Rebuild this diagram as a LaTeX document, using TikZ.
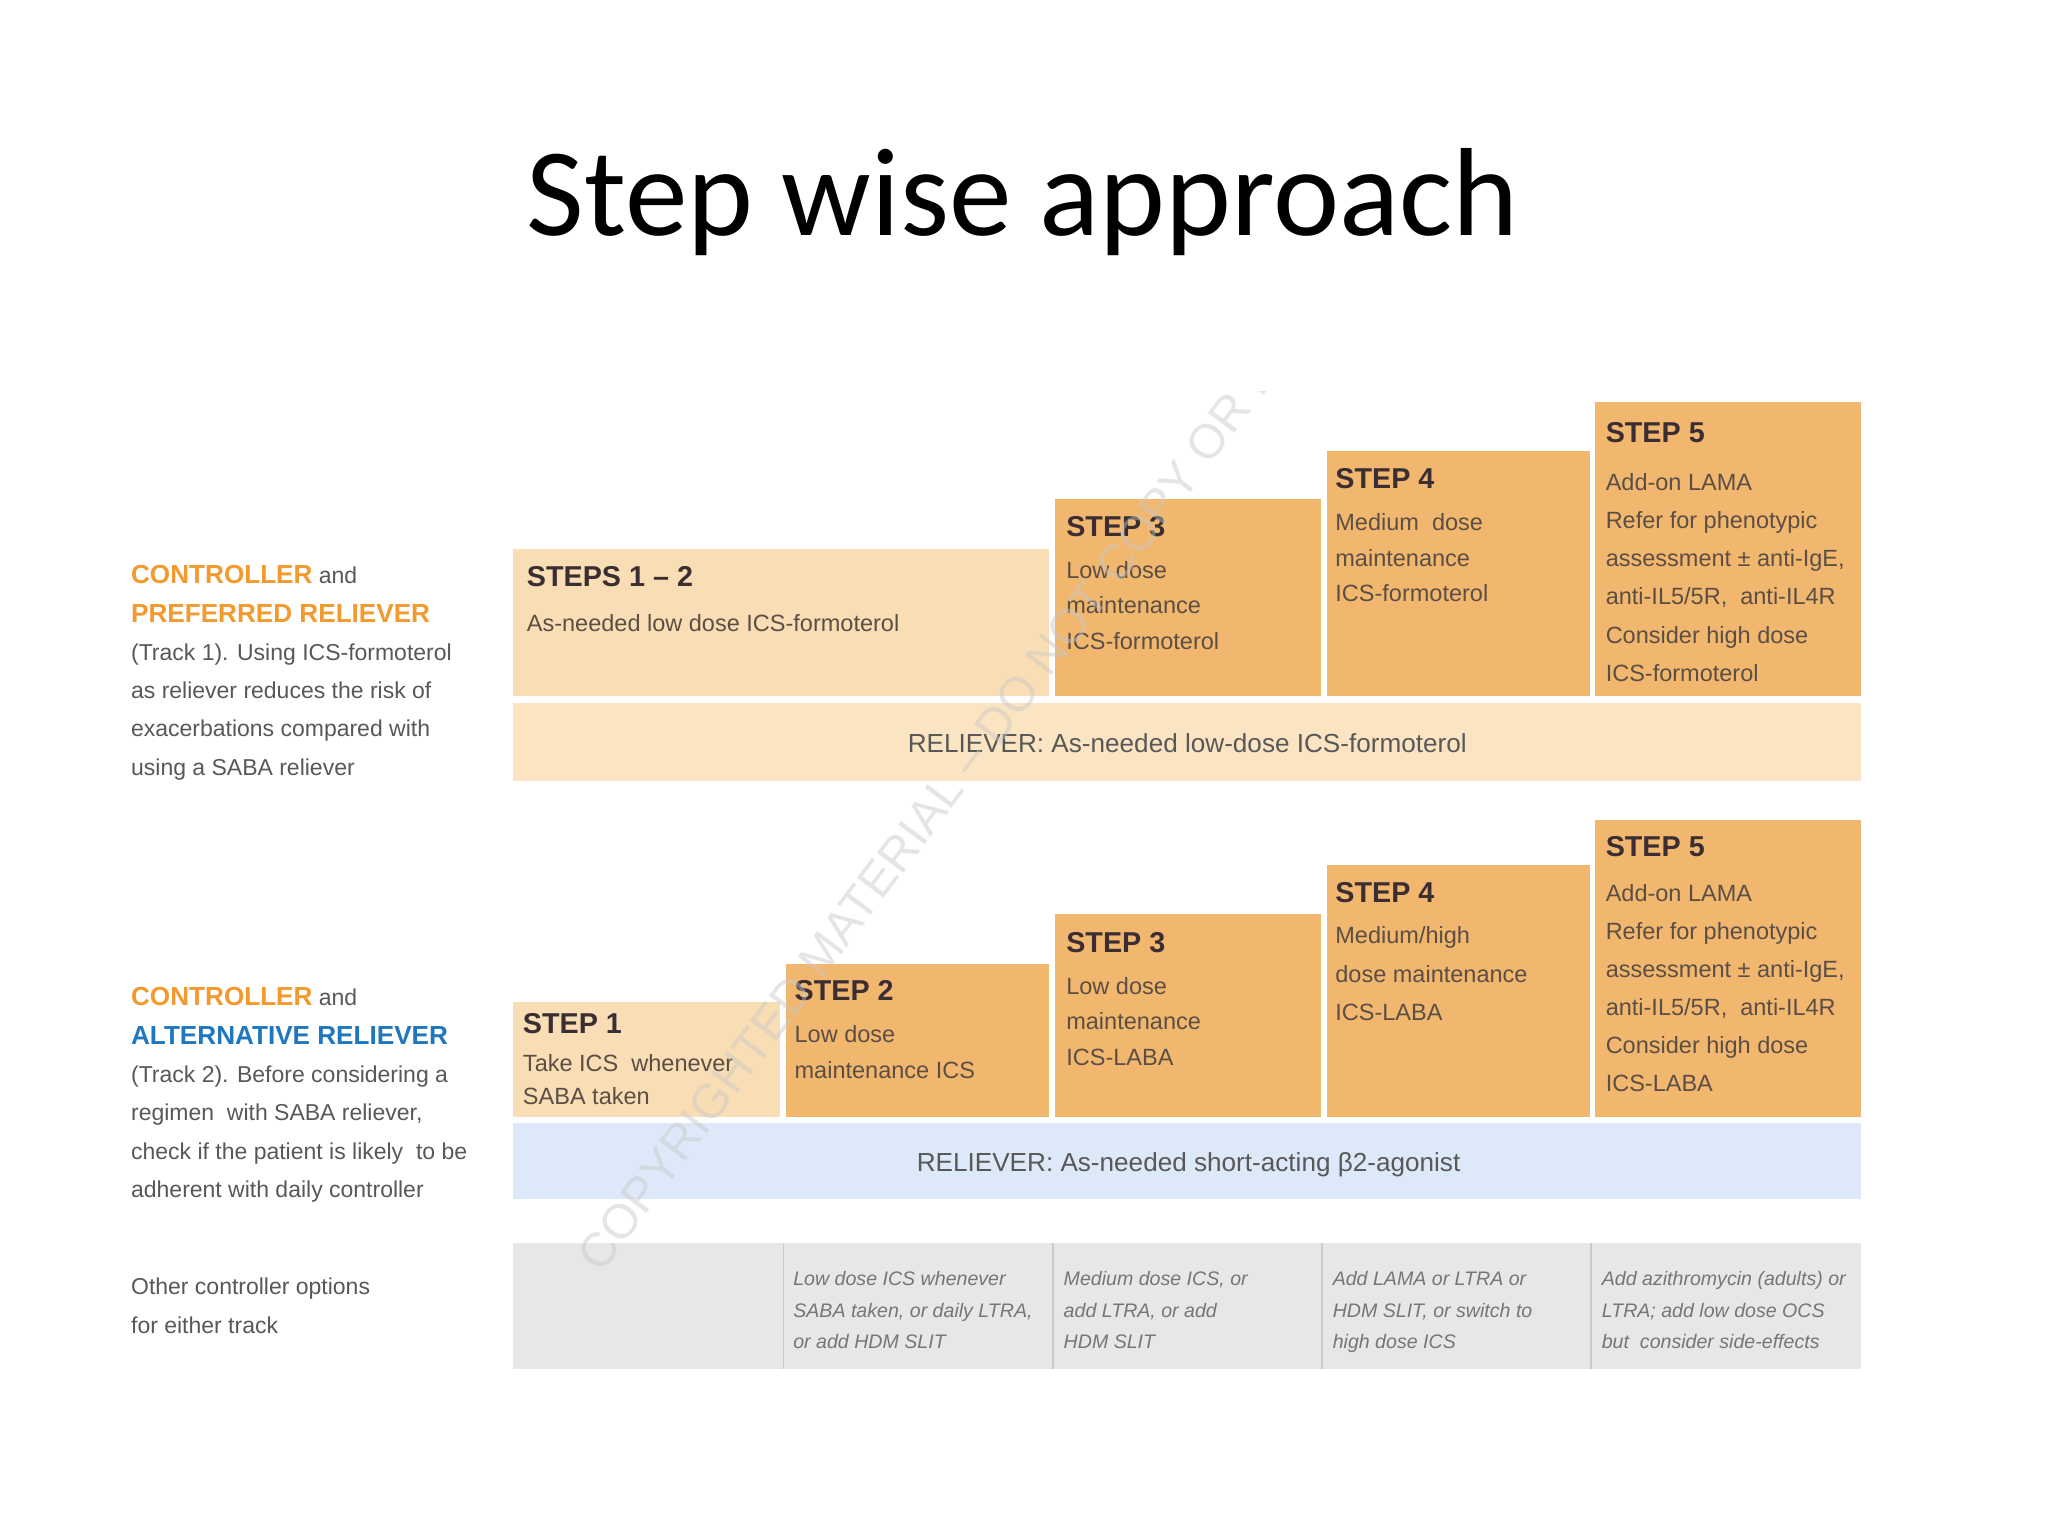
\documentclass[tikz,border=0pt]{standalone}
\usepackage{fontspec}
\setmainfont{Liberation Sans}
\newfontfamily\titlefont{Carlito}
\usetikzlibrary{fit}
\definecolor{peach}{HTML}{F9DDB4}
\definecolor{orng}{HTML}{F2B76E}
\definecolor{relT}{HTML}{FBE4C1}
\definecolor{blu}{HTML}{DDE9F8}
\definecolor{gry}{HTML}{E7E7E9}
\definecolor{divc}{HTML}{CBCBCE}
\definecolor{hdrc}{HTML}{3A2E33}
\definecolor{bodyc}{HTML}{5B4F45}
\definecolor{ltc}{HTML}{585858}
\definecolor{itc}{HTML}{767676}
\definecolor{orgtxt}{HTML}{F29A2E}
\definecolor{blutxt}{HTML}{1F77BE}
\tikzset{
  hdr/.style={anchor=base west, inner sep=0pt, font=\fontsize{11}{13}\selectfont\bfseries, text=hdrc},
  body/.style={anchor=base west, inner sep=0pt, font=\fontsize{9}{11}\selectfont, text=bodyc},
  lt/.style={anchor=base west, inner sep=0pt, font=\fontsize{8.8}{11}\selectfont, text=ltc},
  oth/.style={anchor=base west, inner sep=0pt, font=\fontsize{7.5}{9}\selectfont\itshape, text=itc},
  rel/.style={anchor=base, inner sep=0pt, font=\fontsize{10}{12}\selectfont, text=ltc},
  divider/.style={draw=divc, line width=0.6pt}
}
\newcommand\bx[6]{\node[fit={(#2,#3) (#4,#5)}, inner sep=0pt, outer sep=0pt, fill=#6] (#1) {};}
\newcommand\lns[6]{\foreach \t [count=\i from 0] in {#6}{\node[#1] (#2-\i) at (#3,{#4+\i*(#5)}) {\t};}}
\newcommand\ob[1]{{\bfseries\fontsize{10}{12}\selectfont\color{orgtxt}#1}}
\newcommand\bb[1]{{\bfseries\fontsize{10}{12}\selectfont\color{blutxt}#1}}
\begin{document}
\begin{tikzpicture}[x=0.5pt,y=-0.5pt]
\useasboundingbox[fill=white] (0,0) rectangle (1568,1176);
\node[font=\titlefont\fontsize{48}{56}\selectfont, anchor=base, inner sep=0pt] (title) at (783,180) {Step wise approach};

% ---- track 1 boxes
\bx{t12}{393}{420}{803}{533}{peach}
\bx{t3}{808}{382}{1011}{533}{orng}
\bx{t4}{1016}{345}{1217}{533}{orng}
\bx{t5}{1221}{308}{1425}{533}{orng}
\bx{trel}{393}{538}{1425}{598}{relT}
% ---- track 2 boxes
\bx{b1}{393}{767}{597}{855}{peach}
\bx{b2}{602}{738}{803}{855}{orng}
\bx{b3}{808}{700}{1011}{855}{orng}
\bx{b4}{1016}{662}{1217}{855}{orng}
\bx{b5}{1221}{628}{1425}{855}{orng}
\bx{brel}{393}{860}{1425}{918}{blu}
% ---- other options row
\bx{oth}{393}{952}{1425}{1048}{gry}
\foreach \xx in {600,806,1012,1218}{\draw[divider] (\xx,952) -- (\xx,1048);}

% ---- left texts
\node[lt] (l1-0) at (100,447) {\ob{CONTROLLER} and};
\node[lt] (l1-1) at (100,476.3) {\ob{PREFERRED RELIEVER}};
\lns{lt}{l1b}{100}{505.6}{29.3}{{(Track 1). Using ICS-formoterol},{as reliever reduces the risk of},{exacerbations compared with},{using a SABA reliever}}
\node[lt] (l2-0) at (100,770) {\ob{CONTROLLER} and};
\node[lt] (l2-1) at (100,799.4) {\bb{ALTERNATIVE RELIEVER}};
\lns{lt}{l2b}{100}{828.8}{29.4}{{(Track 2). Before considering a},{regimen\ \ with SABA reliever,},{check if the patient is likely\ \ to be},{adherent with daily controller}}
\lns{lt}{l3}{100}{991.3}{30}{{Other controller options},{for either track}}

% ---- track 1 texts
\node[hdr] (t12h) at (403,449) {STEPS 1 – 2};
\node[body] (t12b) at (403,483.5) {As-needed low dose ICS-formoterol};
\node[hdr] (t3h) at (816,411) {STEP 3};
\lns{body}{t3b}{816}{443}{27}{{Low dose},{maintenance},{ICS-formoterol}}
\node[hdr] (t4h) at (1022,374) {STEP 4};
\lns{body}{t4b}{1022}{406.5}{27}{{Medium\ \ dose},{maintenance},{ICS-formoterol}}
\node[hdr] (t5h) at (1229,339) {STEP 5};
\lns{body}{t5b}{1229}{375.5}{29.2}{{Add-on LAMA},{Refer for phenotypic},{assessment ± anti-IgE,},{anti-IL5/5R,\ \ anti-IL4R},{Consider high dose},{ICS-formoterol}}
\node[rel] (treltxt) at (909,576) {RELIEVER: As-needed low-dose ICS-formoterol};

% ---- track 2 texts
\node[hdr] (b1h) at (400,791) {STEP 1};
\lns{body}{b1b}{400}{820.5}{25}{{Take ICS\ \ whenever},{SABA taken}}
\node[hdr] (b2h) at (608,766) {STEP 2};
\lns{body}{b2b}{608}{798.5}{27}{{Low dose},{maintenance ICS}}
\node[hdr] (b3h) at (816,729) {STEP 3};
\lns{body}{b3b}{816}{761.5}{27}{{Low dose},{maintenance},{ICS-LABA}}
\node[hdr] (b4h) at (1022,691) {STEP 4};
\lns{body}{b4b}{1022}{722.5}{29.5}{{Medium/high},{dose maintenance},{ICS-LABA}}
\node[hdr] (b5h) at (1229,656) {STEP 5};
\lns{body}{b5b}{1229}{690.5}{29}{{Add-on LAMA},{Refer for phenotypic},{assessment ± anti-IgE,},{anti-IL5/5R,\ \ anti-IL4R},{Consider high dose},{ICS-LABA}}
\node[rel] (breltxt) at (910,897) {RELIEVER: As-needed short-acting β2-agonist};

% ---- other controller options
\lns{oth}{o2}{607}{984.5}{24}{{Low dose ICS whenever},{SABA taken, or daily LTRA,},{or add HDM SLIT}}
\lns{oth}{o3}{814}{984.5}{24}{{Medium dose ICS, or},{add LTRA, or add},{HDM SLIT}}
\lns{oth}{o4}{1020}{984.5}{24}{{Add LAMA or LTRA or},{HDM SLIT, or switch to},{high dose ICS}}
\lns{oth}{o5}{1226}{984.5}{24}{{Add azithromycin (adults) or},{LTRA; add low dose OCS},{but\ \ consider side-effects}}

% ---- watermark (cut at the top, as in the reference)
\begin{scope}
\clip (0,300) rectangle (1568,1176);
\node[anchor=base west, inner sep=0pt, rotate=53, font=\fontsize{18.5}{20}\selectfont, text=black!22, opacity=0.45] (wm) at (460,976) {COPYRIGHTED MATERIAL – DO NOT COPY OR DI};
\end{scope}
\end{tikzpicture}
\end{document}
